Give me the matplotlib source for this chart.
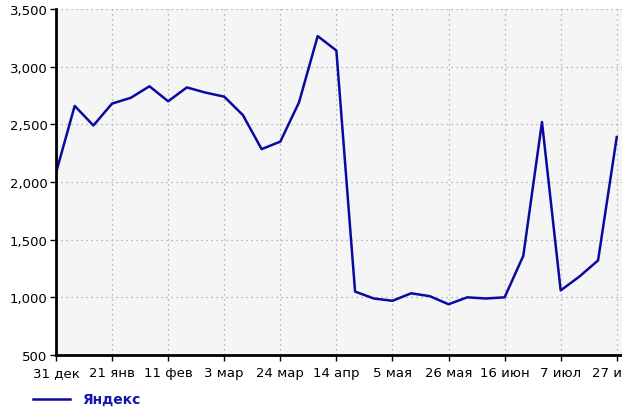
import matplotlib
matplotlib.use("Agg")
import matplotlib.pyplot as plt
from matplotlib.ticker import FuncFormatter

tick_labels = ["31 дек", "21 янв", "11 фев", "3 мар", "24 мар", "14 апр",
               "5 мая", "26 мая", "16 июн", "7 июл", "27 июл"]
series_name = "Яндекс"
values = [2080, 2660, 2490, 2680, 2730, 2830, 2700, 2820, 2775, 2740,
          2580, 2285, 2350, 2690, 3265, 3140, 1050, 990, 970, 1035,
          1010, 940, 1000, 990, 1000, 1360, 2520, 1060, 1180, 1320, 2390]
weeks = list(range(len(values)))

W, H = 622, 410
fig = plt.figure(figsize=(W / 100, H / 100), dpi=100)
ax = fig.add_axes([56 / W, 1 - 356 / H, (W - 56) / W + 0.01, (356 - 10) / H])
ax.set_facecolor("#f5f5f5")
ax.plot(weeks, values, color="#0a0aa0", lw=1.8)
ax.set_ylim(500, 3500)
ax.set_xlim(0, 30 * (622 - 56) / (618 - 56) + 0.4)
ax.set_yticks(range(500, 3501, 500))
ax.yaxis.set_major_formatter(FuncFormatter(lambda v, p: f"{int(v):,}"))
ax.set_xticks(range(0, 31, 3))
ax.set_xticklabels(tick_labels)
ax.grid(True, color="#a0a0a0", linestyle=(0, (1, 3)), lw=0.9)
for s in ["top", "right"]:
    ax.spines[s].set_visible(False)
for s in ["left", "bottom"]:
    ax.spines[s].set_linewidth(2)
    ax.spines[s].set_color("black")
ax.tick_params(axis="both", direction="out", length=4, width=1, labelsize=9.5,
               colors="black", pad=2)
ax.tick_params(axis="x", pad=4)
for lbl in ax.get_xticklabels():
    lbl.set_clip_on(False)

fig.add_artist(plt.Line2D([33 / W, 70 / W], [1 - 400 / H, 1 - 400 / H],
                          color="#0a0aa0", lw=1.8))
fig.text(82 / W, 1 - 400 / H, series_name, color="#1515b0", fontweight="bold",
         fontsize=10, va="center", ha="left")

fig.savefig("out.png", dpi=100)
